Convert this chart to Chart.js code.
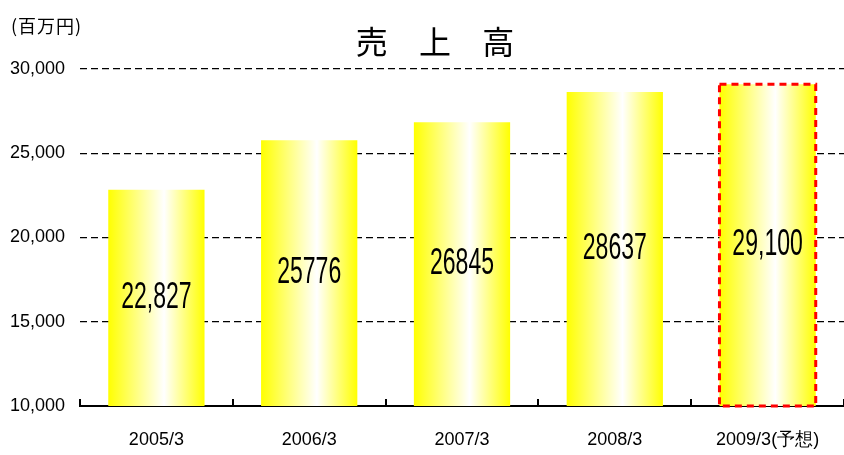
<!DOCTYPE html>
<html lang="ja">
<head>
    <meta charset="UTF-8">
    <script src="https://cdn.jsdelivr.net/npm/chart.js"></script>
    <title>売上高</title>
    <style>
      html, body { margin: 0; padding: 0; background: #fff; }
      #wrap { width: 844px; height: 455px; }
    </style>
</head>
<body>
  <div id="wrap"><canvas id="sales-chart"></canvas></div>
  <script>
  var years = ['2005/3', '2006/3', '2007/3', '2008/3', '2009/3(予想)'];
  var sales = [22827, 25776, 26845, 28637, 29100];
  var salesLabels = ['22,827', '25776', '26845', '28637', '29,100'];
  var yTicks = [10000, 15000, 20000, 25000, 30000];

  var sans = '"Liberation Sans", Arial, sans-serif';
  var jp = '"Noto Sans CJK JP", sans-serif';

  function barFill(ctx) {
    var chart = ctx.chart;
    var xs = chart.scales.x;
    if (!xs || !chart.chartArea) return '#ffff00';
    var cx = xs.getPixelForValue(ctx.dataIndex);
    var w = (xs.width / years.length) * 0.63;
    var g = chart.ctx.createLinearGradient(cx - w / 2, 0, cx + w / 2, 0);
    g.addColorStop(0, '#ffff00');
    g.addColorStop(0.58, '#ffffff');
    g.addColorStop(1, '#ffff00');
    return g;
  }

  // title, unit, labels in bars, dashed forecast border, category ticks
  var extras = {
    id: 'extras',
    afterDatasetsDraw: function(chart) {
      var ctx = chart.ctx;
      var area = chart.chartArea;
      var meta = chart.getDatasetMeta(0);

      // forecast bar border
      var last = meta.data[meta.data.length - 1];
      var p = last.getProps(['x', 'y', 'width'], true);
      ctx.save();
      ctx.strokeStyle = '#ff0000';
      ctx.lineWidth = 3;
      ctx.setLineDash([7, 5]);
      ctx.strokeRect(p.x - p.width / 2, p.y, p.width, area.bottom - p.y);
      ctx.restore();

      // values inside bars
      ctx.save();
      ctx.fillStyle = '#000';
      ctx.font = '36px ' + sans;
      ctx.textAlign = 'center';
      ctx.textBaseline = 'middle';
      meta.data.forEach(function(bar, i) {
        var b = bar.getProps(['x', 'y'], true);
        ctx.save();
        ctx.translate(b.x, (b.y + area.bottom) / 2);
        ctx.scale(0.64, 1);
        ctx.fillText(salesLabels[i], 0, 0);
        ctx.restore();
      });
      ctx.restore();

      // small tick marks between categories
      var xs = chart.scales.x;
      var step = xs.width / years.length;
      ctx.save();
      ctx.strokeStyle = '#000';
      ctx.lineWidth = 2;
      for (var i = 0; i <= years.length; i++) {
        var x = Math.round(xs.left + i * step);
        ctx.beginPath();
        ctx.moveTo(x, area.bottom);
        ctx.lineTo(x, area.bottom - 7);
        ctx.stroke();
      }
      ctx.restore();

      // title and unit
      ctx.save();
      ctx.fillStyle = '#000';
      ctx.textBaseline = 'middle';
      ctx.textAlign = 'center';
      ctx.font = '32px ' + jp;
      ctx.letterSpacing = '12px';
      ctx.fillText('売 上 高', 441, 42);
      ctx.letterSpacing = '1px';
      ctx.textAlign = 'left';
      ctx.font = '18px ' + jp;
      ctx.fillText('(百万円)', 11, 26);
      ctx.restore();
    }
  };

  new Chart(document.getElementById('sales-chart'), {
    type: 'bar',
    data: {
      labels: years,
      datasets: [{
        data: sales,
        backgroundColor: barFill,
        borderWidth: 0,
        categoryPercentage: 1,
        barPercentage: 0.63
      }]
    },
    options: {
      responsive: true,
      maintainAspectRatio: false,
      animation: false,
      layout: { padding: { top: 69, right: 0, left: 0, bottom: 0 } },
      plugins: {
        legend: { display: false },
        tooltip: { enabled: false },
        title: { display: false }
      },
      scales: {
        x: {
          afterFit: function(scale) { scale.height = 49; },
          grid: { display: false },
          border: { display: true, color: '#000', width: 2 },
          ticks: {
            color: '#000',
            padding: 15,
            font: { family: sans, size: 18 }
          }
        },
        y: {
          min: 10000,
          max: 30000,
          afterFit: function(scale) { scale.width = 80; },
          afterBuildTicks: function(scale) {
            scale.ticks = yTicks.map(function(v) { return { value: v }; });
          },
          grid: {
            color: function(c) { return c.tick && c.tick.value === 10000 ? 'rgba(0,0,0,0)' : '#000'; },
            lineWidth: 1.2,
            drawTicks: false
          },
          border: { display: false, dash: [7, 4] },
          ticks: {
            color: '#000',
            padding: 15,
            font: { family: sans, size: 18 },
            callback: function(v) { return v.toLocaleString('en-US'); }
          }
        }
      }
    },
    plugins: [extras]
  });
  </script>
</body>
</html>
